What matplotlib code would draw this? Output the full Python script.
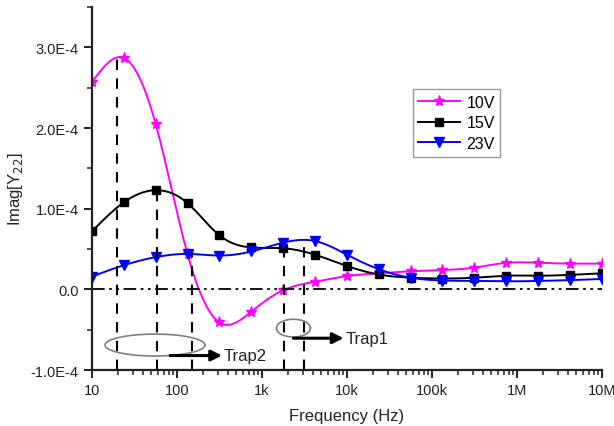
import numpy as np
import matplotlib.pyplot as plt
from matplotlib.ticker import FixedLocator, LogLocator, NullFormatter, MultipleLocator

plt.rcParams['font.family'] = ['Liberation Sans', 'DejaVu Sans']

# Frequency sweep (Hz)
freq = [10, 23.7, 56.2, 133, 316, 750, 1778, 4217, 1.0e4, 2.37e4, 5.62e4,
        1.33e5, 3.16e5, 7.5e5, 1.778e6, 4.217e6, 1.0e7]

# Imag[Y22] for each bias (units of 1e-4)
y_10v = [2.57, 2.87, 2.05, 0.44, -0.41, -0.275, -0.01, 0.095, 0.165, 0.20, 0.225,
         0.24, 0.27, 0.33, 0.33, 0.32, 0.32]
y_15v = [0.72, 1.08, 1.23, 1.07, 0.67, 0.52, 0.51, 0.43, 0.29, 0.185, 0.145,
         0.135, 0.145, 0.17, 0.17, 0.18, 0.20]
y_23v = [0.16, 0.30, 0.40, 0.44, 0.42, 0.47, 0.58, 0.60, 0.43, 0.25, 0.145,
         0.11, 0.105, 0.10, 0.105, 0.115, 0.13]

labels = ['10V', '15V', '23V']
colors = ['#FF00FF', 'black', '#0000FF']
markers = ['*', 's', 'v']
msizes = [8, 6, 7]

# trap frequencies marked with dashed drop lines: (freq, top value)
drop_f = [19.6, 58, 149, 1820, 3100]
drop_top = [2.92, 1.23, 0.45, 0.51, 0.60]


def spline(x, y, n=400):
    # natural cubic spline, used only to draw a smooth line through the points
    x = np.asarray(x, float)
    y = np.asarray(y, float)
    m = len(x)
    h = np.diff(x)
    A = np.zeros((m, m))
    b = np.zeros(m)
    A[0, 0] = A[-1, -1] = 1
    for i in range(1, m - 1):
        A[i, i - 1] = h[i - 1]
        A[i, i] = 2 * (h[i - 1] + h[i])
        A[i, i + 1] = h[i]
        b[i] = 6 * ((y[i + 1] - y[i]) / h[i] - (y[i] - y[i - 1]) / h[i - 1])
    M = np.linalg.solve(A, b)
    xs = np.linspace(x[0], x[-1], n)
    idx = np.clip(np.searchsorted(x, xs) - 1, 0, m - 2)
    x0, x1 = x[idx], x[idx + 1]
    hh = x1 - x0
    t0, t1 = x1 - xs, xs - x0
    ys = (M[idx] * t0**3 / (6 * hh) + M[idx + 1] * t1**3 / (6 * hh)
          + (y[idx] / hh - M[idx] * hh / 6) * t0
          + (y[idx + 1] / hh - M[idx + 1] * hh / 6) * t1)
    return xs, ys


fig = plt.figure(figsize=(6.14, 4.27), dpi=100)
ax = fig.add_axes([0.1498, 0.131, 0.8306, 0.85])

lx = np.log10(freq)
for yv, lab, c, mk, ms in zip([y_10v, y_15v, y_23v], labels, colors, markers, msizes):
    ya = np.array(yv) * 1e-4
    xs, ys = spline(lx, ya)
    ax.plot(10**xs, ys, color=c, lw=1.4)
    ax.plot(freq, ya, ls='none', marker=mk, color=c, ms=ms)
    ax.plot([], [], color=c, lw=1.4, marker=mk, ms=ms, label=lab)

# zero line
ax.axhline(0, color='black', lw=1.3, dashes=(7, 2.5, 1.5, 2.5, 1.5, 2.5))

# drop lines
for f, top in zip(drop_f, drop_top):
    ax.plot([f, f], [-1e-4, top * 1e-4], color='black', lw=1.5, dashes=(5, 4))

# trap ellipses (drawn in log-frequency space)
t = np.linspace(0, 2 * np.pi, 200)
for cx, cy, a, bb in [(1.741, -0.69, 0.588, 0.136), (3.37, -0.48, 0.2, 0.11)]:
    ax.plot(10**(cx + a * np.cos(t)), (cy + bb * np.sin(t)) * 1e-4, color='gray', lw=1.2)

arrow = dict(arrowstyle='-|>', color='black', lw=2.2, mutation_scale=16, shrinkA=0, shrinkB=0)
ax.annotate('', xy=(10**2.53, -0.82e-4), xytext=(10**1.92, -0.82e-4), arrowprops=arrow)
ax.text(10**2.55, -0.82e-4, 'Trap2', fontsize=12, va='center', ha='left', color='#222222')
ax.annotate('', xy=(10**3.96, -0.605e-4), xytext=(10**3.37, -0.605e-4), arrowprops=arrow)
ax.text(10**3.98, -0.605e-4, 'Trap1', fontsize=12, va='center', ha='left', color='#222222')

ax.set_xscale('log')
ax.set_xlim(10, 1e7)
ax.set_ylim(-1e-4, 3.5e-4)

ax.xaxis.set_major_locator(FixedLocator([10, 100, 1e3, 1e4, 1e5, 1e6, 1e7]))
ax.set_xticklabels(['10', '100', '1k', '10k', '100k', '1M', '10M'])
ax.xaxis.set_minor_locator(LogLocator(base=10, subs=np.arange(2, 10), numticks=20))
ax.xaxis.set_minor_formatter(NullFormatter())
ax.set_yticks([-1e-4, 0, 1e-4, 2e-4, 3e-4])
ax.set_yticklabels(['-1.0E-4', '0.0', '1.0E-4', '2.0E-4', '3.0E-4'])
ax.yaxis.set_minor_locator(MultipleLocator(0.5e-4))

for s in ['top', 'right']:
    ax.spines[s].set_visible(False)
for s in ['left', 'bottom']:
    ax.spines[s].set_linewidth(1.6)
    ax.spines[s].set_color('#222222')
ax.tick_params(which='major', direction='out', length=6, width=1.4, labelsize=10.5,
               colors='#222222')
ax.tick_params(which='minor', direction='out', length=3.5, width=1.1, colors='#222222')

ax.set_xlabel('Frequency (Hz)', fontsize=12, color='#222222', labelpad=8)
ax.set_ylabel('Imag[Y$_{22}$]', fontsize=12, color='#222222', labelpad=4)

leg = ax.legend(loc='upper left', bbox_to_anchor=(0.629, 0.774), fontsize=11.5,
                frameon=True, fancybox=False, edgecolor='gray', handlelength=2.6,
                borderpad=0.35, labelspacing=0.35, handletextpad=0.4, borderaxespad=0)
leg.get_frame().set_linewidth(1.0)

fig.savefig('out.png', dpi=100)
